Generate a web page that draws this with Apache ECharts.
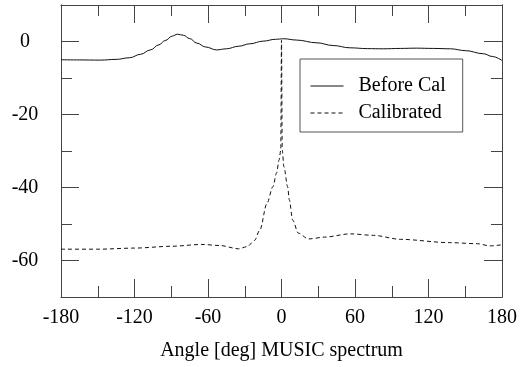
<!DOCTYPE html>
<html>
<head>
<meta charset="utf-8">
<script src="https://cdn.jsdelivr.net/npm/echarts@6/dist/echarts.min.js"></script>
<style>html,body{margin:0;padding:0;background:#fff;}#c{width:524px;height:367px;}</style>
</head>
<body>
<div id="c"></div>
<script>
const beforeAngles = [-180,-165,-148,-135,-124,-115,-107,-100,-95,-89,-85,-80,-75,-69,-62,-53,-45,-35,-26,-15,-5,2,12,29,42,56,70,83,97,110,124,138,150,165,172,180];
const beforeValues = [-5.0,-5.05,-5.1,-4.9,-4.45,-3.5,-2.3,-0.9,0.27,1.5,2.0,1.7,0.8,-0.45,-1.5,-2.3,-2.0,-1.3,-0.64,0.1,0.6,0.75,0.4,-0.36,-1.1,-1.73,-1.95,-2.0,-1.9,-1.82,-1.9,-2.0,-2.5,-3.36,-4.1,-5.2];
const calAngles = [-180,-150,-120,-90,-65,-50,-35,-28,-22,-17.6,-12,-7,-4,-2,-0.6,0,0.6,2,5,6.4,9.1,13.7,22,35,56,75,97,137,160,170,180];
const calValues = [-56.9,-56.9,-56.6,-56.1,-55.6,-55.9,-56.8,-56.2,-54.5,-51.6,-44.5,-39.8,-36,-32.5,-29.8,0.3,-29.8,-34.3,-39.8,-43.4,-48.9,-52.5,-54.1,-53.6,-52.7,-53.1,-54.2,-55.1,-55.4,-56,-55.7];
const xTicks = [-180,-120,-60,0,60,120,180];
const yMajor = [-60,-40,-20,0];
const yMinor = [-50,-30,-10];
const seriesNames = ['Before Cal','Calibrated'];
const xTitle = 'Angle [deg] MUSIC spectrum';

const FONT = 'Liberation Serif';
const AX = '#444';
const pair = (xs, ys) => xs.map((x, i) => [x, ys[i]]);

function xAx(pos, labels) {
  return {
    type: 'value', position: pos, min: -180, max: 180, interval: 60,
    axisLine: {show: true, onZero: false, lineStyle: {color: AX, width: 1}},
    axisTick: {show: true, inside: true, length: 18, lineStyle: {color: AX}},
    minorTick: {show: true, splitNumber: 2, length: 11, lineStyle: {color: AX}},
    splitLine: {show: false}, minorSplitLine: {show: false},
    axisLabel: {show: labels, margin: 11, fontSize: 20, fontFamily: FONT, color: '#000'},
    name: labels ? xTitle : '', nameLocation: 'middle', nameGap: 44,
    nameTextStyle: {fontSize: 20, fontFamily: FONT, color: '#000'}
  };
}
function yAx(pos, vals, len, labels) {
  return {
    type: 'value', position: pos, min: -70, max: 10, interval: 10,
    axisLine: {show: true, onZero: false, lineStyle: {color: AX, width: 1}},
    axisTick: {show: true, inside: true, length: len, customValues: vals, lineStyle: {color: AX}},
    splitLine: {show: false},
    axisLabel: {show: labels, customValues: vals, margin: 36, align: 'center', fontSize: 20, fontFamily: FONT, color: '#000'}
  };
}

const chart = echarts.init(document.getElementById('c'), null, {renderer: 'canvas'});
chart.setOption({
  animation: false,
  backgroundColor: '#fff',
  grid: {left: 61, right: 22, top: 5, bottom: 70, containLabel: false},
  legend: {
    orient: 'vertical', left: 300, top: 59,
    padding: [17, 17, 9, 10], itemGap: 7, itemWidth: 33, itemHeight: 14,
    borderColor: '#555', borderWidth: 1,
    itemStyle: {opacity: 0},
    lineStyle: {width: 1},
    textStyle: {fontSize: 20, fontFamily: FONT, color: '#000', lineHeight: 20, padding: [0, 0, 0, 10]},
    data: seriesNames
  },
  xAxis: [xAx('bottom', true), xAx('top', false)],
  yAxis: [yAx('left', yMajor, 18, true), yAx('left', yMinor, 11, false), yAx('right', yMajor, 18, false), yAx('right', yMinor, 11, false)],
  series: [
    {name: seriesNames[0], type: 'line', xAxisIndex: 0, yAxisIndex: 0, data: pair(beforeAngles, beforeValues),
     showSymbol: false, symbol: 'none', smooth: 0.4, smoothMonotone: 'x',
     lineStyle: {color: '#111', width: 1}, itemStyle: {color: '#111'}},
    {name: seriesNames[1], type: 'line', xAxisIndex: 0, yAxisIndex: 0, data: pair(calAngles, calValues),
     showSymbol: false, symbol: 'none', smooth: 0.3, smoothMonotone: 'x',
     lineStyle: {color: '#111', width: 1, type: [4, 3]}, itemStyle: {color: '#111'}}
  ]
});
</script>
</body>
</html>
